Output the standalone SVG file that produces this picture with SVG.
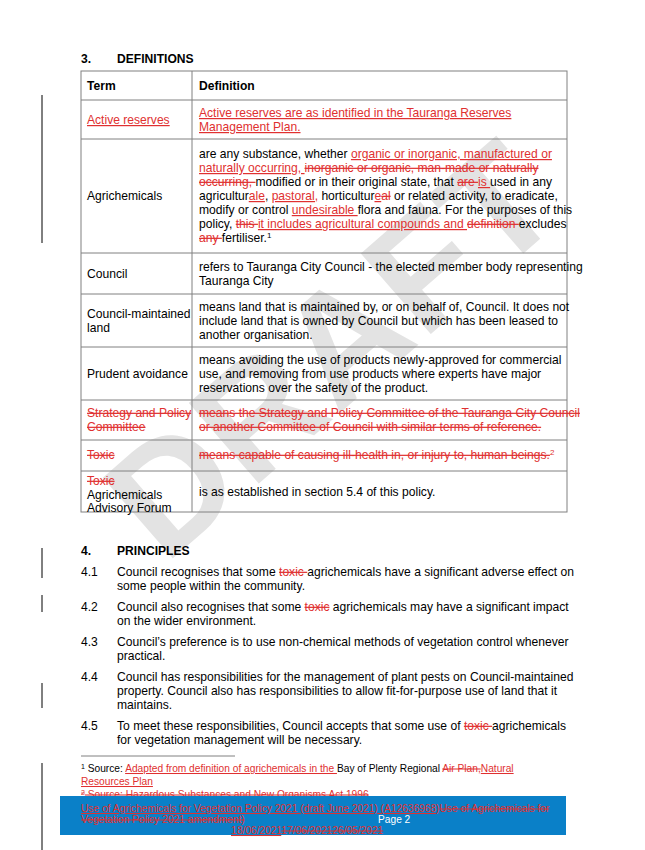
<svg xmlns="http://www.w3.org/2000/svg" width="645" height="850" viewBox="0 0 645 850">
<style>
text{font-family:"Liberation Sans",Arial,sans-serif;font-size:12.1px;fill:#000}
.r{fill:#e03030}
.u{text-decoration:underline}
.s{text-decoration:line-through}
.b{font-weight:bold}
.bar{stroke:#000;stroke-width:1}
.grid{stroke:#808080;stroke-width:1;fill:none}
.f{font-size:10.2px}
</style>
<rect width="645" height="850" fill="#fff"/>
<g id="watermark"><text x="0" y="0" transform="translate(165,565) rotate(-41)" style="font-size:155px;font-weight:bold;fill:#e3e3e3;letter-spacing:2px">DRAFT</text></g>
<g id="changebars">
<line class="bar" x1="42" y1="95" x2="42" y2="243"/>
<line class="bar" x1="42" y1="548" x2="42" y2="578"/>
<line class="bar" x1="42" y1="595" x2="42" y2="612"/>
<line class="bar" x1="42" y1="683" x2="42" y2="708"/>
<line class="bar" x1="42" y1="763" x2="42" y2="850"/>
</g>
<text x="81" y="63" class="b">3.</text><text x="117" y="63" class="b">DEFINITIONS</text>
<g id="table">
<rect class="grid" x="81" y="71" width="486" height="441"/>
<line class="grid" x1="192" y1="71" x2="192" y2="512"/>
<line class="grid" x1="81" y1="100" x2="567" y2="100"/>
<line class="grid" x1="81" y1="139" x2="567" y2="139"/>
<line class="grid" x1="81" y1="253" x2="567" y2="253"/>
<line class="grid" x1="81" y1="294" x2="567" y2="294"/>
<line class="grid" x1="81" y1="347" x2="567" y2="347"/>
<line class="grid" x1="81" y1="400" x2="567" y2="400"/>
<line class="grid" x1="81" y1="440" x2="567" y2="440"/>
<line class="grid" x1="81" y1="471" x2="567" y2="471"/>
<text x="87" y="90" class="b">Term</text><text x="199" y="90" class="b">Definition</text>
<text x="87" y="124" class="r u">Active reserves</text>
<text x="199" y="117" class="r u">Active reserves are as identified in the Tauranga Reserves</text>
<text x="199" y="131" class="r u">Management Plan.</text>
<text x="87" y="200">Agrichemicals</text>
<text x="199" y="158">are any substance, whether <tspan class="r u">organic or inorganic, manufactured or</tspan></text>
<text x="199" y="172"><tspan class="r u">naturally occurring, </tspan><tspan class="r s">inorganic or organic, man-made or naturally</tspan></text>
<text x="199" y="186"><tspan class="r s">occurring, </tspan>modified or in their original state, that <tspan class="r s">are </tspan><tspan class="r u">is </tspan>used in any</text>
<text x="199" y="200">agricultur<tspan class="r u">ale</tspan>, <tspan class="r u">pastoral,</tspan> horticultur<tspan class="r u">e</tspan><tspan class="r s">al</tspan> or related activity, to eradicate,</text>
<text x="199" y="214">modify or control <tspan class="r u">undesirable </tspan>flora and fauna.  For the purposes of this</text>
<text x="199" y="228">policy, <tspan class="r s">this </tspan><tspan class="r u">it includes agricultural compounds and </tspan><tspan class="r s">definition </tspan>excludes</text>
<text x="199" y="242"><tspan class="r s">any </tspan><tspan class="r u"> </tspan>fertiliser.<tspan dy="-4" style="font-size:8px">1</tspan></text>
<text x="87" y="278">Council</text>
<text x="199" y="271">refers to Tauranga City Council - the elected member body representing</text>
<text x="199" y="285">Tauranga City</text>
<text x="87" y="318">Council-maintained</text><text x="87" y="332">land</text>
<text x="199" y="311">means land that is maintained by, or on behalf of, Council.  It does not</text>
<text x="199" y="325">include land that is owned by Council but which has been leased to</text>
<text x="199" y="339">another organisation.</text>
<text x="87" y="378">Prudent avoidance</text>
<text x="199" y="364">means avoiding the use of products newly-approved for commercial</text>
<text x="199" y="378">use, and removing from use products where experts have major</text>
<text x="199" y="392">reservations over the safety of the product.</text>
<text x="87" y="417" class="r s">Strategy and Policy</text><text x="87" y="431" class="r s">Committee</text>
<text x="199" y="417" class="r s">means the Strategy and Policy Committee of the Tauranga City Council</text>
<text x="199" y="431" class="r s">or another Committee of Council with similar terms of reference.</text>
<text x="87" y="459" class="r s">Toxic</text>
<text x="199" y="459"><tspan class="r s">means capable of causing ill-health in, or injury to, human beings.</tspan><tspan class="r" dy="-4" style="font-size:8px">2</tspan></text>
<text x="87" y="485" class="r s">Toxic</text><text x="87" y="499">Agrichemicals</text><text x="87" y="512">Advisory Forum</text>
<text x="199" y="496">is as established in section 5.4 of this policy.</text>
</g>
<g id="principles">
<text x="81" y="555" class="b">4.</text><text x="117" y="555" class="b">PRINCIPLES</text>
<text x="81" y="576">4.1</text><text x="117" y="576">Council recognises that some <tspan class="r s">toxic </tspan>agrichemicals have a significant adverse effect on</text>
<text x="117" y="590">some people within the community.</text>
<text x="81" y="611">4.2</text><text x="117" y="611">Council also recognises that some <tspan class="r s">toxic</tspan> agrichemicals may have a significant impact</text>
<text x="117" y="625">on the wider environment.</text>
<text x="81" y="646">4.3</text><text x="117" y="646">Council’s preference is to use non-chemical methods of vegetation control whenever</text>
<text x="117" y="660">practical.</text>
<text x="81" y="681">4.4</text><text x="117" y="681">Council has responsibilities for the management of plant pests on Council-maintained</text>
<text x="117" y="695">property.  Council also has responsibilities to allow fit-for-purpose use of land that it</text>
<text x="117" y="709">maintains.</text>
<text x="81" y="730">4.5</text><text x="117" y="730">To meet these responsibilities, Council accepts that some use of <tspan class="r s">toxic </tspan>agrichemicals</text>
<text x="117" y="744">for vegetation management will be necessary.</text>
</g>
<g id="footnotes">
<line x1="81" y1="756" x2="235" y2="756" stroke="#808080" stroke-width="1"/>
<text x="81" y="772" class="f"><tspan dy="-3" style="font-size:7px">1</tspan><tspan dy="3"> Source: </tspan><tspan class="r u">Adapted from definition of agrichemicals in the </tspan>Bay of Plenty Regional <tspan class="r s">Air Plan,</tspan><tspan class="r u">Natural</tspan></text>
<text x="81" y="785" class="f r u">Resources Plan</text>
<text x="81" y="798" class="f r s"><tspan dy="-3" style="font-size:7px">2</tspan><tspan dy="3"> Source: Hazardous Substances and New Organisms Act 1996</tspan></text>
</g>
<g id="footer">
<rect x="60" y="796" width="506" height="39" fill="#0a80c8"/>
<text x="81" y="812" class="f r"><tspan class="u">Use of Agrichemicals for Vegetation Policy 2021 (draft June 2021) (A12636968)</tspan><tspan class="s">Use of Agrichemicals for</tspan></text>
<text x="81" y="823" class="f r s">Vegetation Policy 2021 amendment)</text>
<text x="378" y="823" class="f" style="fill:#fff">Page 2</text>
<text x="231" y="834" class="f r"><tspan class="u">18/06/2021</tspan><tspan class="s">17/06/202126/05/2021</tspan></text>
</g>
</svg>
